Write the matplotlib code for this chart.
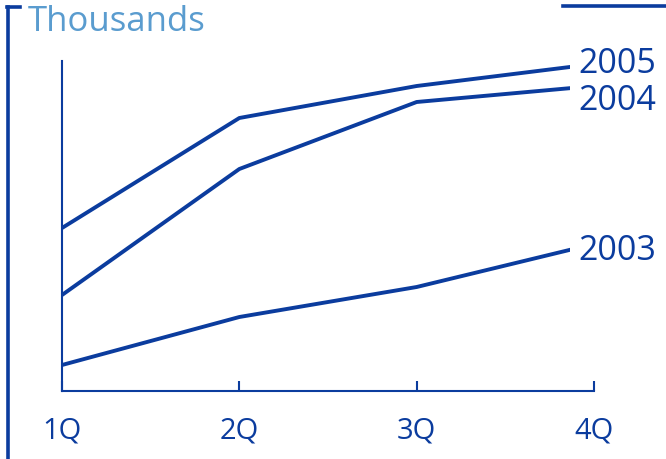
import matplotlib.pyplot as plt
from matplotlib.lines import Line2D
from matplotlib.patches import Rectangle

# quarterly series, thousands
quarters = ["1Q", "2Q", "3Q", "4Q"]
y2003 = [26, 74, 104, 147]
y2004 = [96, 222, 289, 305]
y2005 = [163, 273, 305, 327]
years = ["2003", "2004", "2005"]

dark = "#0b3c9e"
light = "#5a9ccf"

plt.rcParams['font.family'] = ['Open Sans', 'DejaVu Sans']

fig = plt.figure(figsize=(6.66, 4.60), dpi=100)
ax = fig.add_axes([62/666, 1 - 392/460, (594 - 62)/666, (392 - 62)/460])

ax.set_xlim(0, 3)
ax.set_ylim(0, 330)

# lines stop a little short of 4Q to leave room for the year labels
clip = Rectangle((-0.05, -0.2), 1.005, 1.4, transform=ax.transAxes)

x = range(len(quarters))
for vals, name in zip([y2003, y2004, y2005], years):
    ln, = ax.plot(x, vals, color=dark, lw=2.8, solid_capstyle='butt')
    ln.set_clip_path(clip)

ax.set_xticks(list(x))
ax.set_xticklabels(quarters, fontsize=21, color=dark)
ax.tick_params(axis='x', direction='in', length=7, width=1.5, color=dark, pad=18)
ax.set_yticks([])
for s in ["top", "right"]:
    ax.spines[s].set_visible(False)
for s in ["left", "bottom"]:
    ax.spines[s].set_color(dark)
    ax.spines[s].set_linewidth(1.5)

# year labels at the line ends
label_y = {"2005": 64, "2004": 101, "2003": 251}
for name, py in label_y.items():
    fig.text(578/666, 1 - py/460, name, fontsize=24.5, color=dark, va='center', ha='left')

fig.text(28/666, 1 - 22/460, "Thousands", fontsize=25, color=light, va='center', ha='left')

# frame pieces
fig.add_artist(Line2D([8/666, 8/666], [0, 1 - 8/460], color=dark, lw=2.6, transform=fig.transFigure))
fig.add_artist(Line2D([7/666, 20/666], [1 - 8/460, 1 - 8/460], color=dark, lw=2.6, transform=fig.transFigure))
fig.add_artist(Line2D([563/666, 1], [1 - 7/460, 1 - 7/460], color=dark, lw=2.6, transform=fig.transFigure))

fig.savefig("out.png", dpi=100)
